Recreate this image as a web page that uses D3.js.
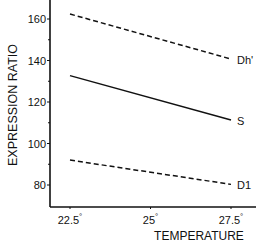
<!DOCTYPE html>
<html>
<head>
<meta charset="utf-8">
<script src="https://cdn.jsdelivr.net/npm/d3@7"></script>
<style>
  body { margin: 0; background: #fff; }
  text { font-family: "Liberation Sans", Arial, sans-serif; fill: #111; }
</style>
</head>
<body>
<svg id="chart" width="256" height="244"></svg>
<script>
// data
var temps = [22.5, 27.5]
var seriesNames = ["Dh'", "S", "D1"]
var dhValues = [162.4, 140.7]
var sValues = [132.7, 111.3]
var d1Values = [92, 80.3]
var yTicks = [80, 100, 120, 140, 160]
var yMinor = [90, 110, 130, 150]
var xTicks = [22.5, 25, 27.5]
var xTickLabels = ["22.5", "25", "27.5"]

var svg = d3.select("#chart")

var x = d3.scaleLinear().domain([22.5, 27.5]).range([70, 231])
var y = d3.scaleLinear().domain([80, 160]).range([185, 19])
var axisY = 207, axisX = 50

// axes lines
svg.append("line")
    .attr("x1", axisX).attr("y1", 0)
    .attr("x2", axisX).attr("y2", axisY)
    .style("stroke", "#111").style("stroke-width", 1.6)
svg.append("line")
    .attr("x1", axisX).attr("y1", axisY)
    .attr("x2", 256).attr("y2", axisY)
    .style("stroke", "#111").style("stroke-width", 1.6)

// y ticks
svg.selectAll(".ytick").data(yTicks).enter().append("line")
    .attr("x1", axisX - 3).attr("x2", axisX)
    .attr("y1", d => y(d)).attr("y2", d => y(d))
    .style("stroke", "#111").style("stroke-width", 1)
svg.selectAll(".yminor").data(yMinor).enter().append("line")
    .attr("x1", axisX - 2).attr("x2", axisX)
    .attr("y1", d => y(d)).attr("y2", d => y(d))
    .style("stroke", "#111").style("stroke-width", 1)
svg.selectAll(".ylab").data(yTicks).enter().append("text")
    .attr("x", axisX - 4).attr("y", d => y(d) + 4)
    .attr("text-anchor", "end")
    .style("font-size", "11px")
    .text(d => d)

// x ticks
svg.selectAll(".xtick").data(xTicks).enter().append("line")
    .attr("x1", d => x(d)).attr("x2", d => x(d))
    .attr("y1", axisY).attr("y2", axisY + 2)
    .style("stroke", "#111").style("stroke-width", 1)
var xl = svg.selectAll(".xlab").data(xTicks).enter().append("text")
    .attr("x", d => x(d)).attr("y", 224)
    .attr("text-anchor", "middle")
    .style("font-size", "11px")
xl.append("tspan").text((d, i) => xTickLabels[i])
xl.append("tspan").attr("dy", -5).style("font-size", "8px").text("°")

// axis titles
svg.append("text")
    .attr("x", 199).attr("y", 240)
    .attr("text-anchor", "middle")
    .style("font-size", "12px")
    .text("TEMPERATURE")
svg.append("text")
    .attr("transform", "translate(17,105) rotate(-90)")
    .attr("text-anchor", "middle")
    .style("font-size", "12.5px")
    .text("EXPRESSION RATIO")

// series
var series = [
    {name: seriesNames[0], values: dhValues, dash: "5,3"},
    {name: seriesNames[1], values: sValues, dash: null},
    {name: seriesNames[2], values: d1Values, dash: "5,3"}
]
var line = d3.line().x((d, i) => x(temps[i])).y(d => y(d))
series.forEach(function(s) {
    svg.append("path")
        .attr("d", line(s.values))
        .style("fill", "none")
        .style("stroke", "#111")
        .style("stroke-width", 1.5)
        .style("stroke-dasharray", s.dash)
    svg.append("text")
        .attr("x", x(temps[1]) + 6)
        .attr("y", y(s.values[1]) + 5)
        .style("font-size", "11px")
        .text(s.name)
})
</script>
</body>
</html>
